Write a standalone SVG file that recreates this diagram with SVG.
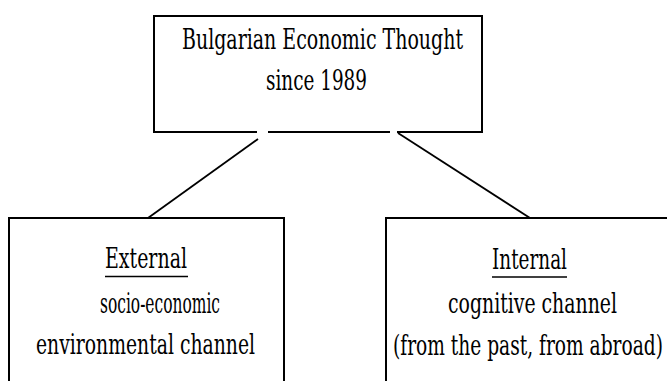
<svg xmlns="http://www.w3.org/2000/svg" width="667" height="381" viewBox="0 0 667 381">
<style>
.box{fill:none;stroke:#000;stroke-width:2}
.t{font-family:"DejaVu Serif Condensed","DejaVu Serif","Liberation Serif",serif;font-stretch:condensed;font-size:28px;fill:#000}
.u{stroke:#000;stroke-width:1.6}
.c{stroke:#000;stroke-width:1.8;fill:none}
</style>
<rect width="667" height="381" fill="#fff"/>
<g id="root">
<path class="box" d="M257,132 H154 V16 H482 V132 H397 M268,132 H390"/>
<text class="t" x="182" y="49" textLength="281" lengthAdjust="spacingAndGlyphs">Bulgarian Economic Thought</text>
<text class="t" x="266" y="90" textLength="101" lengthAdjust="spacingAndGlyphs">since 1989</text>
</g>
<g id="external">
<path class="box" d="M9,382 V218 H284 V382"/>
<text class="t" x="105" y="268" textLength="82" lengthAdjust="spacingAndGlyphs">External</text>
<line class="u" x1="105" y1="276.5" x2="188" y2="276.5"/>
<text class="t" x="100" y="313" textLength="120" lengthAdjust="spacingAndGlyphs">socio-economic</text>
<text class="t" x="36" y="354" textLength="219" lengthAdjust="spacingAndGlyphs">environmental channel</text>
</g>
<g id="internal">
<path class="box" d="M386,382 V218 H668"/>
<text class="t" x="492" y="269" textLength="75" lengthAdjust="spacingAndGlyphs">Internal</text>
<line class="u" x1="492" y1="277" x2="567" y2="277"/>
<text class="t" x="448" y="313" textLength="169" lengthAdjust="spacingAndGlyphs">cognitive channel</text>
<text class="t" x="393" y="355" textLength="270" lengthAdjust="spacingAndGlyphs">(from the past, from abroad)</text>
</g>
<g id="connectors">
<line class="c" x1="148" y1="218" x2="258" y2="139"/>
<line class="c" x1="398" y1="133" x2="530" y2="218"/>
</g>
</svg>
